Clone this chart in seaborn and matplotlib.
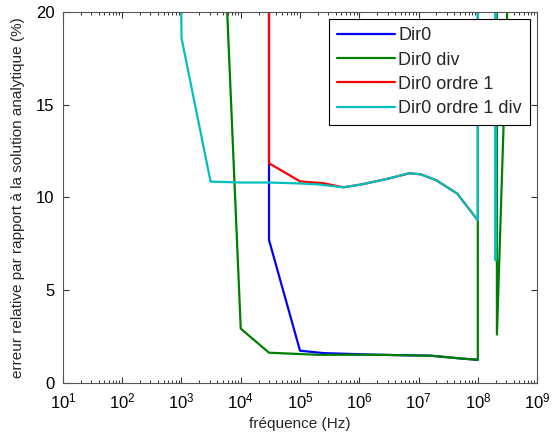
import numpy as np
import pandas as pd
import seaborn as sns
import matplotlib
matplotlib.use("Agg")
import matplotlib.pyplot as plt
from matplotlib.ticker import LogLocator, NullFormatter

# frequences (Hz) et erreurs (%)
f_dir0 = [2.9e4, 3.0e4, 1.0e5, 2.5e5, 2.0e6, 1.6e7, 5.6e7, 1.0e8]
e_dir0 = [500, 7.7, 1.73, 1.6, 1.51, 1.46, 1.3, 1.24]

f_div = [1e3, 3e3, 1e4, 3e4, 2.0e5, 2.0e6, 1.6e7, 5.6e7, 1.0e8, 1.0e8, 1.9e8, 2.1e8, 3.2e8]
e_div = [200, 42, 2.92, 1.62, 1.51, 1.51, 1.46, 1.3, 1.24, 500, 500, 2.6, 21]

f_ord1 = [2.9e4, 3.0e4, 1.0e5, 2.5e5, 5.4e5, 1.1e6, 3e6, 7e6, 1.1e7, 2.0e7, 4.5e7, 1.0e8]
e_ord1 = [500, 11.84, 10.86, 10.76, 10.54, 10.7, 11.0, 11.3, 11.24, 10.92, 10.2, 8.76]

f_ord1div = [1e2, 1e3, 3.1e3, 1e4, 3e4, 1e5, 2e5, 5.4e5, 1.1e6, 3e6, 7e6, 1.1e7, 2.0e7,
             4.5e7, 1.0e8, 1.0e8, 1.95e8, 2.0e8, 2.1e8]
e_ord1div = [500, 18.6, 10.85, 10.8, 10.8, 10.75, 10.7, 10.54, 10.7, 11.0, 11.3, 11.24, 10.92,
             10.2, 8.76, 500, 500, 6.6, 500]

noms = ["Dir0", "Dir0 div", "Dir0 ordre 1", "Dir0 ordre 1 div"]
couleurs = ["#0000ff", "#008000", "#ff0000", "#00bfbf"]

frames = []
for nom, f, e in zip(noms, [f_dir0, f_div, f_ord1, f_ord1div], [e_dir0, e_div, e_ord1, e_ord1div]):
    frames.append(pd.DataFrame({"f": f, "err": e, "serie": nom}))
df = pd.concat(frames, ignore_index=True)

sns.set_style("ticks")
plt.rcParams['font.family'] = ['Liberation Sans', 'DejaVu Sans']

fig = plt.figure(figsize=(5.52, 4.42), dpi=100)
ax = fig.add_axes([0.114, 0.134, 0.859, 0.839])

sns.lineplot(data=df, x="f", y="err", hue="serie", hue_order=noms,
             palette=dict(zip(noms, couleurs)), estimator=None, sort=False,
             units="serie", linewidth=1.6, ax=ax)

ax.set_xscale("log")
ax.set_xlim(1e1, 1e9)
ax.set_ylim(0, 20)
ax.set_yticks([0, 5, 10, 15, 20])
ax.xaxis.set_major_locator(LogLocator(base=10, numticks=100))
ax.xaxis.set_minor_locator(LogLocator(base=10, subs=np.arange(2, 10), numticks=100))
ax.xaxis.set_minor_formatter(NullFormatter())
ax.tick_params(axis="both", which="both", direction="in", top=True, right=True,
               bottom=True, left=True, colors="#333333", labelcolor="black")
ax.tick_params(axis="both", which="major", length=4, width=0.8, labelsize=12)
ax.tick_params(axis="x", which="major", pad=6)
ax.tick_params(axis="y", which="major", pad=6)
ax.tick_params(axis="x", which="minor", length=2.5, width=0.7)
for s in ax.spines.values():
    s.set_color("#555555")
    s.set_linewidth(0.8)

ax.set_xlabel("fréquence (Hz)", fontsize=11, labelpad=4)
ax.set_ylabel("erreur relative par rapport à la solution analytique (%)", fontsize=11, labelpad=8)

leg = ax.legend(loc="upper right", fontsize=13, fancybox=False, framealpha=1,
                edgecolor="black", handlelength=3.2, borderaxespad=0.4,
                labelspacing=0.4, handletextpad=0.2, borderpad=0.45)
leg.get_frame().set_linewidth(0.8)

fig.savefig("out.png", dpi=100)
